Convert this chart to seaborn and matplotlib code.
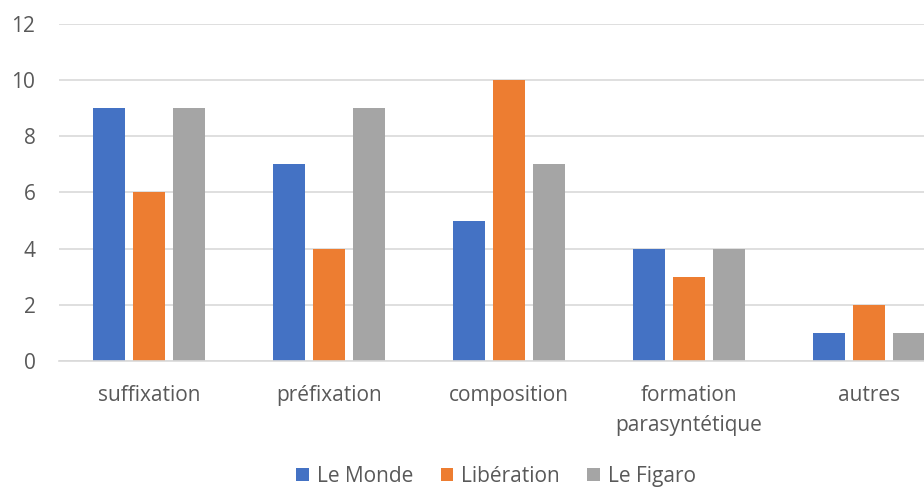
import numpy as np
import pandas as pd
import matplotlib
matplotlib.use("Agg")
import matplotlib.pyplot as plt
import seaborn as sns

categories = ["suffixation", "préfixation", "composition", "formation\nparasyntétique", "autres"]
series = ["Le Monde", "Libération", "Le Figaro"]
le_monde = [9, 7, 5, 4, 1]
liberation = [6, 4, 10, 3, 2]
le_figaro = [9, 9, 7, 4, 1]
colors = ["#4472C4", "#ED7D31", "#A5A5A5"]

df = pd.DataFrame({
    "cat": categories * 3,
    "journal": [s for s in series for _ in categories],
    "val": le_monde + liberation + le_figaro,
})

sns.set_style("white")
plt.rcParams["font.family"] = ["Open Sans", "DejaVu Sans"]

fig = plt.figure(figsize=(9.24, 4.9), dpi=100)
ax = fig.add_axes([59 / 924, 1 - 361 / 490, 900 / 924, 337 / 490])
sns.barplot(data=df, x="cat", y="val", hue="journal", palette=colors,
            width=0.667, gap=0.2, order=categories, hue_order=series, ax=ax,
            saturation=1, linewidth=0)

ax.set_xlim(-0.5, 4.5)
ax.set_ylim(0, 12)
ax.set_yticks(range(0, 13, 2))
ax.yaxis.grid(True, color="#D9D9D9", linewidth=1.2)
ax.set_axisbelow(True)
for s in ["top", "right", "left"]:
    ax.spines[s].set_visible(False)
ax.spines["bottom"].set_color("#D9D9D9")
ax.spines["bottom"].set_linewidth(1.2)
ax.set_xlabel("")
ax.set_ylabel("")
ax.tick_params(axis="both", length=0, labelsize=15, labelcolor="#595959")
ax.tick_params(axis="y", pad=17)
ax.tick_params(axis="x", pad=17)
for lbl in ax.get_xticklabels():
    lbl.set_linespacing(1.6)

ax.legend(loc="lower center", bbox_to_anchor=(0.537, -0.01), bbox_transform=fig.transFigure,
          ncol=3, frameon=False, fontsize=15, handlelength=0.6, handleheight=0.6,
          handletextpad=0.4, columnspacing=1.3, labelcolor="#595959",
          borderaxespad=0.0)

fig.savefig("out.png", dpi=100)
